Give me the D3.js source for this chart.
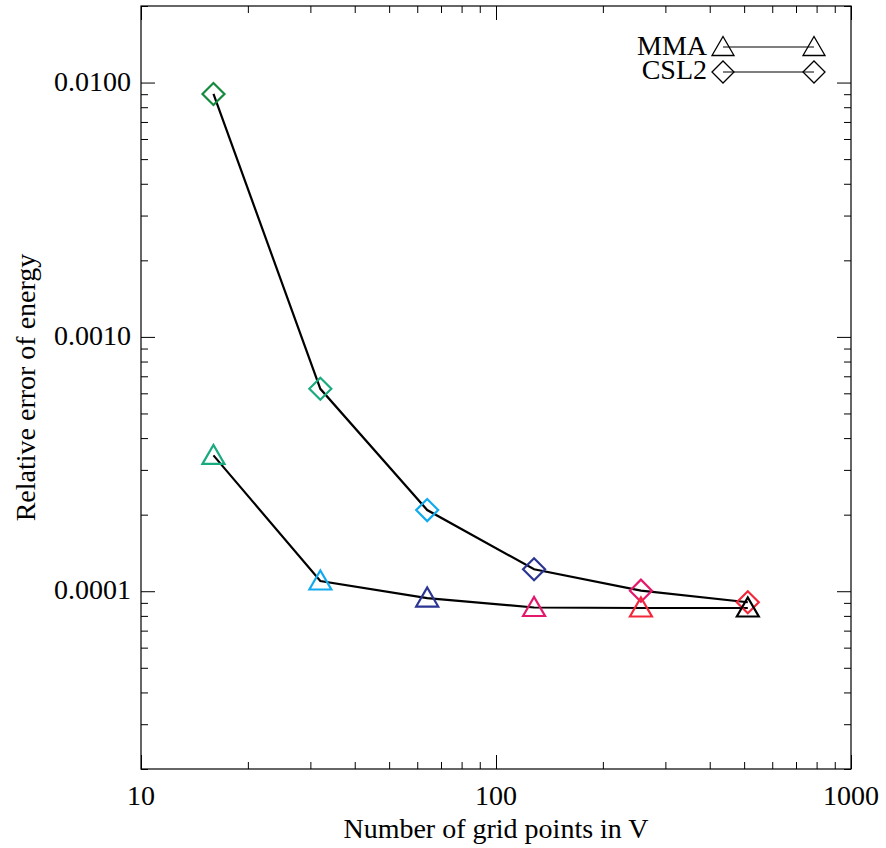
<!DOCTYPE html>
<html>
<head>
<meta charset="utf-8">
<script src="https://cdn.jsdelivr.net/npm/d3@7"></script>
<style>
  html, body { margin: 0; padding: 0; background: #fff; }
  svg { display: block; }
  text { font-family: "Liberation Serif", "DejaVu Serif", serif; fill: #000; }
</style>
</head>
<body>
<svg id="chart" width="886" height="848"></svg>
<script>
// ---- data ----
const gridPoints = [16, 32, 64, 128, 256, 512];
const mmaError = [3.42e-4, 1.097e-4, 9.40e-5, 8.63e-5, 8.59e-5, 8.59e-5];
const csl2Error = [9.02e-3, 6.25e-4, 2.085e-4, 1.22e-4, 1.005e-4, 9.05e-5];
const csl2Colors = ["#138a3c", "#1aaa80", "#12aaee", "#2b3592", "#e4186c", "#f2283a"];
const mmaColors = ["#1aaa80", "#12aaee", "#2b3592", "#e4186c", "#f2283a", "#000000"];
const xMajorTicks = [10, 100, 1000];
const xTickLabels = ["10", "100", "1000"];
const yMajorTicks = [0.0001, 0.001, 0.01];
const yTickLabels = ["0.0001", "0.0010", "0.0100"];
const seriesNames = ["MMA", "CSL2"];
const xTitle = "Number of grid points in V";
const yTitle = "Relative error of energy";

// ---- layout ----
const L = 141, R = 851, T = 6, B = 769;
const svg = d3.select("#chart");
const x = d3.scaleLog().domain([10, 1000]).range([L, R]);
const y = d3.scaleLog().domain([2e-5, 0.02]).range([B, T]);

// minor ticks
const xMinor = [];
[10, 100].forEach(d => { for (let k = 2; k <= 9; k++) xMinor.push(d * k); });
const yMinor = [];
[1e-5, 1e-4, 1e-3, 1e-2].forEach(d => { for (let k = 2; k <= 9; k++) { const v = d * k; if (v >= 2e-5 * 0.999 && v <= 0.02 * 1.001) yMinor.push(v); } });

const axisG = svg.append("g");
const addTicks = (gen, vals, size) => {
  const g = axisG.append("g").call(gen.tickValues(vals).tickSize(size).tickFormat(""));
  g.select(".domain").remove();
  g.selectAll("line").attr("stroke", "#000").attr("stroke-width", 1);
  return g;
};
addTicks(d3.axisTop(x), xMinor, 7).attr("transform", `translate(0,${B})`);
addTicks(d3.axisTop(x), xMajorTicks, 14).attr("transform", `translate(0,${B})`);
addTicks(d3.axisBottom(x), xMinor, 7).attr("transform", `translate(0,${T})`);
addTicks(d3.axisBottom(x), xMajorTicks, 14).attr("transform", `translate(0,${T})`);
addTicks(d3.axisRight(y), yMinor, 7).attr("transform", `translate(${L},0)`);
addTicks(d3.axisRight(y), yMajorTicks, 14).attr("transform", `translate(${L},0)`);
addTicks(d3.axisLeft(y), yMinor, 7).attr("transform", `translate(${R},0)`);
addTicks(d3.axisLeft(y), yMajorTicks, 14).attr("transform", `translate(${R},0)`);

// frame
svg.append("rect").attr("x", L).attr("y", T).attr("width", R - L).attr("height", B - T)
  .attr("fill", "none").attr("stroke", "#000").attr("stroke-width", 1.2);

// tick labels
svg.append("g").selectAll("text").data(xMajorTicks).join("text")
  .attr("x", d => x(d)).attr("y", 805).attr("text-anchor", "middle")
  .attr("font-size", 28).text((d, i) => xTickLabels[i]);
svg.append("g").selectAll("text").data(yMajorTicks).join("text")
  .attr("x", 131).attr("y", d => y(d) + 8).attr("text-anchor", "end")
  .attr("font-size", 28).text((d, i) => yTickLabels[i]);

// axis titles
svg.append("text").attr("x", (L + R) / 2).attr("y", 838).attr("text-anchor", "middle")
  .attr("font-size", 28).text(xTitle);
svg.append("text").attr("transform", `translate(35,${(T + B) / 2}) rotate(-90)`)
  .attr("text-anchor", "middle").attr("font-size", 28).text(yTitle);

// symbols
const triPath = (cx, cy) => `M${cx - 11},${cy + 8.5}L${cx},${cy - 10.5}L${cx + 11},${cy + 8.5}Z`;
const diaPath = (cx, cy) => `M${cx - 11},${cy}L${cx},${cy - 11}L${cx + 11},${cy}L${cx},${cy + 11}Z`;

const line = d3.line().x(d => x(d[0])).y(d => y(d[1]));
const mmaData = gridPoints.map((g, i) => [g, mmaError[i]]);
const cslData = gridPoints.map((g, i) => [g, csl2Error[i]]);

svg.append("path").attr("d", line(cslData)).attr("fill", "none").attr("stroke", "#000").attr("stroke-width", 2.2);
svg.append("path").attr("d", line(mmaData)).attr("fill", "none").attr("stroke", "#000").attr("stroke-width", 2.2);

svg.append("g").selectAll("path").data(cslData).join("path")
  .attr("d", d => diaPath(x(d[0]), y(d[1])))
  .attr("fill", "none").attr("stroke", (d, i) => csl2Colors[i]).attr("stroke-width", 2.2);
svg.append("g").selectAll("path").data(mmaData).join("path")
  .attr("d", d => triPath(x(d[0]), y(d[1])))
  .attr("fill", "none").attr("stroke", (d, i) => mmaColors[i]).attr("stroke-width", 2.2);

// legend
const lx1 = 723, lx2 = 814, textX = 707;
const legRows = [{ name: seriesNames[0], y: 47, sym: triPath, base: 55 }, { name: seriesNames[1], y: 72, sym: diaPath, base: 79 }];
legRows.forEach(r => {
  svg.append("text").attr("x", textX).attr("y", r.base).attr("text-anchor", "end").attr("font-size", 28).text(r.name);
  svg.append("line").attr("x1", lx1).attr("x2", lx2).attr("y1", r.y).attr("y2", r.y).attr("stroke", "#000").attr("stroke-width", 1.2);
  [lx1, lx2].forEach(px => svg.append("path").attr("d", r.sym(px, r.y)).attr("fill", "none").attr("stroke", "#000").attr("stroke-width", 1.3));
});
</script>
</body>
</html>
